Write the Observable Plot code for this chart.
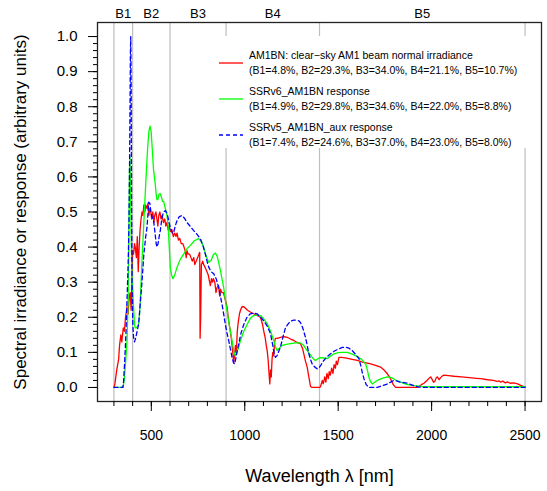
<!DOCTYPE html>
<html>
<head>
<meta charset="utf-8">
<script src="https://cdn.jsdelivr.net/npm/d3@7"></script>
<script src="https://cdn.jsdelivr.net/npm/@observablehq/plot@0.6"></script>
<style>
  html, body { margin: 0; padding: 0; background: white; }
  #chart svg { display: block; }
</style>
</head>
<body>
<div id="chart"></div>
<script>
// ---- Data ----
const bandEdges = [300, 400, 600, 900, 1400, 2500];
const bandLabels = ["B1", "B2", "B3", "B4", "B5"];
const xTickValues = d3.range(300, 2501, 100);
const xLabelTicks = [500, 1000, 1500, 2000, 2500];
const yTickValues = d3.range(0, 11).map(i => i / 10);
const yMinorTicks = d3.range(0, 51).map(i => i / 50);

const seriesNames = ["AM1BN", "SSRv6_AM1BN", "SSRv5_AM1BN_aux"];
const legendTitles = [
  "AM1BN: clear\u2212sky AM1 beam normal irradiance",
  "SSRv6_AM1BN response",
  "SSRv5_AM1BN_aux response"
];
const legendShares = [
  "(B1=4.8%, B2=29.3%, B3=34.0%, B4=21.1%, B5=10.7%)",
  "(B1=4.9%, B2=29.8%, B3=34.6%, B4=22.0%, B5=8.8%)",
  "(B1=7.4%, B2=24.6%, B3=37.0%, B4=23.0%, B5=8.0%)"
];
const seriesColors = ["#ff0000", "#00ff00", "#0000ff"];

// AM1BN irradiance (red)
const amWl = [300,305,315,325,330,337,342,350,356,362,370,376,382,387,392,396,400,405,410,414,420,425,430,435,440,445,450,455,460,465,470,477,482,487,492,497,502,508,514,518,525,530,535,540,546,552,558,565,572,578,584,590,596,602,610,618,625,632,638,645,652,660,668,675,681,687,691,697,705,712,719,727,733,740,748,755,759,761,764,768,775,780,790,798,805,812,816,822,828,832,840,846,852,860,866,870,878,886,896,905,914,923,928,932,936,941,945,950,955,960,966,972,977,985,995,1005,1015,1030,1048,1065,1084,1095,1102,1110,1115,1120,1125,1130,1134,1138,1142,1146,1150,1155,1160,1164,1175,1191,1210,1227,1245,1262,1281,1298,1310,1316,1325,1334,1343,1352,1360,1400,1405,1415,1420,1428,1434,1440,1447,1452,1458,1465,1472,1478,1485,1490,1496,1504,1513,1530,1550,1575,1602,1630,1650,1674,1700,1727,1745,1763,1780,1795,1807,1920,1930,1945,1959,1975,1990,1995,2002,2010,2018,2025,2031,2040,2048,2058,2066,2090,2120,2160,2200,2240,2263,2300,2330,2350,2360,2370,2380,2395,2406,2420,2440,2460,2477,2490,2500];
const amVal = [0,0.01,0.05,0.08,0.12,0.15,0.13,0.17,0.16,0.2,0.23,0.21,0.26,0.27,0.22,0.3,0.39,0.38,0.41,0.4,0.37,0.43,0.33,0.4,0.45,0.48,0.5,0.49,0.52,0.5,0.52,0.51,0.525,0.49,0.51,0.5,0.48,0.5,0.47,0.49,0.5,0.48,0.46,0.49,0.5,0.48,0.49,0.47,0.48,0.46,0.47,0.45,0.46,0.445,0.45,0.43,0.44,0.43,0.44,0.42,0.425,0.41,0.41,0.4,0.39,0.37,0.39,0.38,0.38,0.37,0.36,0.37,0.35,0.36,0.37,0.38,0.385,0.14,0.2,0.35,0.36,0.35,0.34,0.33,0.32,0.3,0.29,0.31,0.3,0.31,0.3,0.27,0.285,0.29,0.26,0.28,0.27,0.27,0.25,0.23,0.19,0.16,0.14,0.12,0.1,0.07,0.09,0.12,0.1,0.16,0.19,0.21,0.22,0.23,0.23,0.225,0.22,0.215,0.21,0.205,0.2,0.18,0.16,0.14,0.12,0.105,0.08,0.04,0.01,0.05,0.03,0.08,0.1,0.09,0.13,0.14,0.14,0.143,0.145,0.143,0.138,0.134,0.128,0.125,0.11,0.096,0.075,0.058,0.03,0.003,0,0,0.002,0.02,0.01,0.03,0.015,0.04,0.025,0.045,0.035,0.055,0.04,0.065,0.055,0.075,0.065,0.086,0.086,0.085,0.083,0.08,0.077,0.072,0.07,0.067,0.063,0.058,0.05,0.039,0.025,0.008,0,0,0.002,0.008,0.012,0.02,0.028,0.03,0.024,0.015,0.018,0.028,0.03,0.022,0.028,0.033,0.035,0.034,0.032,0.03,0.028,0.026,0.025,0.022,0.02,0.017,0.019,0.015,0.018,0.013,0.016,0.012,0.013,0.01,0.006,0.003,0.002];

// SSRv6 response (green)
const v6Wl = [300,348,355,362,370,376,380,383,386,389,393,398,405,410,414,420,427,432,437,441,446,450,460,470,480,487,493,499,505,512,521,526,530,535,541,547,553,560,566,575,584,590,596,602,609,616,625,638,655,673,690,709,730,753,768,780,793,807,820,832,843,852,861,870,878,887,896,905,918,932,942,950,958,968,977,995,1013,1030,1048,1066,1084,1102,1120,1138,1155,1165,1173,1185,1200,1222,1245,1270,1298,1315,1334,1348,1361,1370,1379,1392,1405,1420,1441,1460,1477,1500,1525,1549,1575,1602,1625,1647,1656,1664,1673,1683,1695,1709,1735,1763,1785,1805,1834,1870,1906,1950,2000,2500];
const v6Val = [0,0,0.02,0.07,0.134,0.25,0.45,0.62,0.656,0.55,0.4,0.3,0.23,0.18,0.17,0.17,0.175,0.18,0.21,0.25,0.31,0.36,0.47,0.58,0.68,0.73,0.745,0.73,0.68,0.62,0.58,0.55,0.535,0.535,0.55,0.553,0.545,0.53,0.53,0.51,0.49,0.46,0.4,0.34,0.32,0.31,0.32,0.343,0.365,0.38,0.395,0.405,0.418,0.424,0.415,0.4,0.375,0.357,0.362,0.378,0.383,0.375,0.355,0.333,0.31,0.286,0.25,0.22,0.175,0.134,0.1,0.09,0.1,0.115,0.134,0.16,0.18,0.197,0.205,0.207,0.205,0.195,0.182,0.16,0.134,0.115,0.105,0.112,0.12,0.123,0.125,0.127,0.127,0.12,0.105,0.095,0.086,0.08,0.077,0.082,0.085,0.084,0.082,0.09,0.096,0.099,0.1,0.1,0.095,0.088,0.08,0.067,0.05,0.03,0.017,0.01,0.015,0.02,0.026,0.03,0.028,0.022,0.015,0.008,0.005,0.003,0.002,0.002];

// SSRv5 aux response (blue dashed)
const v5Wl = [300,348,352,358,364,370,376,380,383,386,388,390,392,394,397,401,405,410,416,424,432,441,450,460,470,477,486,492,498,504,512,520,526,530,536,542,548,556,565,575,585,595,605,612,619,628,638,650,664,678,691,710,727,745,762,776,789,798,807,820,834,847,860,870,878,887,896,905,914,923,932,940,946,953,960,968,980,995,1012,1030,1048,1066,1084,1102,1120,1138,1150,1158,1164,1172,1182,1191,1205,1218,1235,1250,1262,1275,1289,1298,1310,1325,1335,1343,1352,1361,1375,1388,1400,1410,1423,1440,1459,1480,1504,1522,1540,1558,1575,1592,1611,1622,1630,1638,1650,1664,1709,1735,1763,1780,1798,1815,1834,1852,1870,1890,1906,1930,1960,2500];
const v5Val = [0,0,0.02,0.08,0.15,0.25,0.35,0.45,0.6,0.8,0.95,1.0,0.85,0.55,0.3,0.18,0.143,0.13,0.14,0.16,0.18,0.24,0.3,0.38,0.43,0.456,0.528,0.525,0.5,0.485,0.476,0.44,0.41,0.4,0.41,0.43,0.447,0.48,0.5,0.504,0.495,0.47,0.45,0.44,0.44,0.46,0.476,0.487,0.49,0.482,0.47,0.458,0.447,0.436,0.424,0.405,0.38,0.36,0.343,0.33,0.324,0.31,0.286,0.26,0.238,0.21,0.18,0.155,0.134,0.11,0.086,0.07,0.067,0.085,0.105,0.125,0.155,0.18,0.2,0.21,0.212,0.21,0.2,0.19,0.175,0.153,0.12,0.095,0.086,0.09,0.103,0.115,0.145,0.17,0.183,0.19,0.192,0.192,0.19,0.185,0.17,0.143,0.118,0.096,0.08,0.067,0.058,0.053,0.058,0.066,0.077,0.087,0.096,0.104,0.11,0.114,0.115,0.112,0.105,0.095,0.082,0.06,0.04,0.025,0.008,0,0,0.005,0.01,0.015,0.02,0.018,0.015,0.014,0.012,0.008,0.005,0.001,0,0];

// ---- Build tables ----
const toRows = (wl, val) => wl.map((w, i) => ({wl: w, v: val[i]}));
const amRows = toRows(amWl, amVal);
const v6Rows = toRows(v6Wl, v6Val);
const v5Rows = toRows(v5Wl, v5Val);
const bands = d3.pairs(bandEdges).map(([a, b], i) => ({mid: (a + b) / 2, label: bandLabels[i]}));

const font = "'Liberation Sans', Arial, Helvetica, sans-serif";

const chart = Plot.plot({
  width: 547,
  height: 491,
  marginLeft: 97,
  marginRight: 6,
  marginTop: 22,
  marginBottom: 90,
  style: {fontFamily: font, background: "white", color: "black"},
  x: {domain: [212, 2588]},
  y: {domain: [-0.04, 1.04]},
  marks: [
    Plot.ruleX(bandEdges, {stroke: "#bebebe", strokeWidth: 1.2}),
    Plot.line(amRows, {x: "wl", y: "v", stroke: seriesColors[0], strokeWidth: 1.3}),
    Plot.line(v6Rows, {x: "wl", y: "v", stroke: seriesColors[1], strokeWidth: 1.3}),
    Plot.line(v5Rows, {x: "wl", y: "v", stroke: seriesColors[2], strokeWidth: 1.3, strokeDasharray: "4,3"}),
    Plot.frame({stroke: "#222", strokeWidth: 1.3}),
    Plot.axisX({ticks: xTickValues, tickSize: 5, tickFormat: () => "", label: null}),
    Plot.axisX({ticks: xLabelTicks, tickSize: 10, tickPadding: 19, fontSize: 14, tickFormat: d => String(d), label: null}),
    Plot.axisY({ticks: yMinorTicks, tickSize: 4, tickFormat: () => "", label: null}),
    Plot.axisY({ticks: yTickValues, tickSize: 9, tickPadding: 11, fontSize: 15, tickFormat: d => d.toFixed(1), label: null}),
    Plot.text(bands, {x: "mid", text: "label", frameAnchor: "top", lineAnchor: "middle", dy: -9, fontSize: 13}),
    Plot.text(["Wavelength \u03bb [nm]"], {frameAnchor: "bottom", lineAnchor: "middle", dy: 75, fontSize: 18}),
    Plot.text(["Spectral irradiance or response (arbitrary units)"], {frameAnchor: "left", textAnchor: "middle", lineAnchor: "middle", dx: -77, rotate: -90, fontSize: 17})
  ]
});

// ---- Legend (inside the plot, top-right) ----
const svg = d3.select(chart);
const lg = svg.append("g").attr("font-family", font).attr("font-size", 10.5).attr("text-anchor", "start");
lg.append("rect").attr("x", 212).attr("y", 36).attr("width", 318).attr("height", 112).attr("fill", "white");
const rowY = [63, 99, 135];
seriesNames.forEach((name, i) => {
  lg.append("line")
    .attr("x1", 219).attr("x2", 243).attr("y1", rowY[i]).attr("y2", rowY[i])
    .attr("stroke", seriesColors[i]).attr("stroke-width", 1.3)
    .attr("stroke-dasharray", i === 2 ? "4,3" : null);
  lg.append("text").attr("x", 249).attr("y", rowY[i] - 7.5).attr("dy", "0.35em").attr("text-anchor", "start").attr("fill", "black").text(legendTitles[i]);
  lg.append("text").attr("x", 249).attr("y", rowY[i] + 7).attr("dy", "0.35em").attr("text-anchor", "start").attr("fill", "black").text(legendShares[i]);
});

document.getElementById("chart").appendChild(chart);
</script>
</body>
</html>
